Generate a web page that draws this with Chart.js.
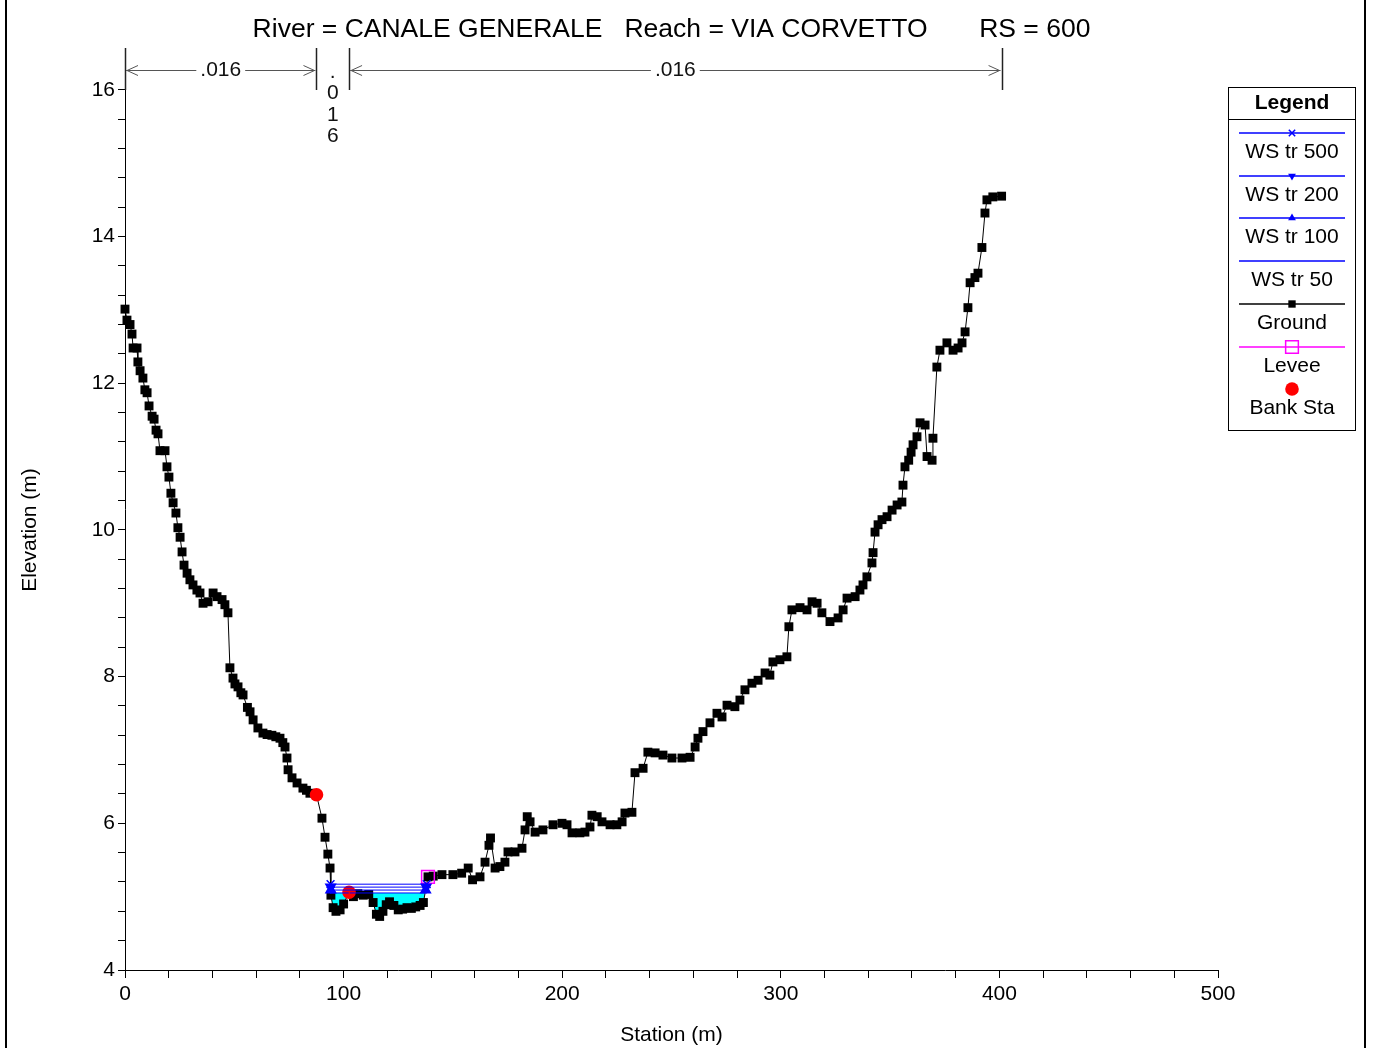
<!DOCTYPE html>
<html>
<head>
<meta charset="utf-8">
<title>River = CANALE GENERALE  Reach = VIA CORVETTO  RS = 600</title>
<script src="https://cdn.jsdelivr.net/npm/chart.js@4.4.1/dist/chart.umd.min.js"></script>
<style>
  html, body { margin: 0; padding: 0; background: #fff; }
  #wrap { width: 1374px; height: 1048px; position: relative; }
</style>
</head>
<body>
<div id="wrap"><canvas id="xs" width="1374" height="1048"></canvas></div>
<script>
// ── Datos de la sección ───────────────────────────────────────────────
const titleText = 'River = CANALE GENERALE   Reach = VIA CORVETTO       RS = 600';

const groundSta = [0,0.9,2.3,3.2,3.7,5.5,5.9,6.9,8.2,9.1,
  10.1,11.0,12.4,13.3,14.2,15.1,16.0,18.3,19.2,20.1,
  21.0,22.0,23.3,24.2,25.2,26.1,27.0,28.4,29.7,31.1,
  32.9,34.3,35.7,38.0,40.3,42.1,44.4,45.7,47.1,48.0,
  49.4,50.3,51.7,53.0,54.0,56.0,57.2,58.6,60.8,63.1,
  65.0,67.2,69.0,70.9,72.2,73.2,74.1,74.6,76.4,78.7,
  81.4,83.0,84.6,87.6,90.1,91.5,92.8,93.8,94.2,95.2,
  96.5,98.4,100.0,102.5,104.5,106.5,109.0,111.5,113.5,115.0,
  116.5,118.0,119.5,121.0,123.0,125.0,127.0,129.0,131.0,133.0,
  135.0,136.5,138.6,141.0,145.0,150.0,154.0,157.0,159.0,162.4,
  164.7,166.5,167.2,169.3,171.5,173.8,175.2,178.4,181.6,183.0,
  184.0,185.3,187.6,191.2,195.8,199.9,202.2,204.5,208.1,210.4,
  212.7,213.6,216.0,218.2,221.9,225.0,227.4,228.7,231.9,233.3,
  237.0,239.2,242.5,246.1,250.2,254.8,258.5,260.8,262.1,264.4,
  267.6,270.8,273.1,275.4,279.0,281.3,283.6,286.8,289.6,292.8,
  295.0,296.4,299.6,302.8,303.7,305.1,308.8,312.0,314.3,316.6,
  318.8,322.5,326.2,328.5,330.3,334.0,336.2,337.6,339.4,341.7,
  342.2,343.1,344.5,346.3,348.6,350.9,353.2,355.4,355.9,356.8,
  358.5,359.6,360.5,362.3,363.7,366.0,366.9,369.2,369.6,371.4,
  372.8,376.0,378.8,381.1,382.9,384.3,385.6,386.6,388.8,390.2,
  392.0,393.4,394.3,397.0,401.0];

const groundElev = [13.01,12.86,12.80,12.67,12.48,12.48,12.29,12.17,12.07,11.91,
  11.87,11.69,11.55,11.51,11.36,11.31,11.08,11.08,10.86,10.72,
  10.50,10.37,10.23,10.03,9.90,9.70,9.52,9.41,9.32,9.25,
  9.18,9.14,9.00,9.02,9.14,9.09,9.05,8.98,8.87,8.12,
  7.98,7.90,7.86,7.78,7.75,7.58,7.52,7.41,7.30,7.23,
  7.21,7.20,7.18,7.16,7.10,7.04,6.89,6.73,6.62,6.55,
  6.48,6.45,6.41,6.39,6.07,5.81,5.58,5.39,5.02,4.85,
  4.80,4.82,4.90,5.06,5.00,5.04,5.02,5.03,4.92,4.76,
  4.73,4.80,4.89,4.93,4.88,4.82,4.83,4.85,4.84,4.86,
  4.88,4.92,5.27,5.28,5.30,5.30,5.32,5.39,5.23,5.27,
  5.47,5.70,5.80,5.39,5.41,5.47,5.61,5.61,5.66,5.91,
  6.09,6.02,5.88,5.91,5.98,6.00,5.98,5.87,5.87,5.88,
  5.95,6.11,6.09,6.02,5.98,5.98,6.02,6.14,6.15,6.69,
  6.75,6.97,6.96,6.93,6.89,6.89,6.90,7.04,7.16,7.25,
  7.37,7.50,7.45,7.61,7.59,7.68,7.82,7.91,7.95,8.05,
  8.02,8.20,8.23,8.27,8.68,8.91,8.94,8.91,9.02,9.00,
  8.87,8.75,8.80,8.91,9.07,9.09,9.18,9.25,9.36,9.55,
  9.69,9.97,10.07,10.14,10.18,10.27,10.34,10.38,10.61,10.86,
  10.95,11.06,11.16,11.27,11.46,11.43,11.00,10.95,11.25,12.22,
  12.45,12.55,12.45,12.48,12.55,12.70,13.03,13.37,13.44,13.50,
  13.85,14.32,14.50,14.54,14.55];

const leveeSta  = [138.6];
const leveeElev = [5.27];
const bankSta   = [87.6, 102.5];
const bankElev  = bankSta.map(s => groundElev[groundSta.indexOf(s)]);

const wsNames = ['WS tr 500', 'WS tr 200', 'WS tr 100', 'WS tr 50'];
const wsElev  = [5.17, 5.13, 5.09, 5.05];

const nValues = ['.016', '.016', '.016'];   // izquierda, canal, derecha

const xTickLabels = [0, 100, 200, 300, 400, 500];
const yTickLabels = [4, 6, 8, 10, 12, 14, 16];

// ── Helpers ───────────────────────────────────────────────────────────
const FONT = "'Liberation Sans', Arial, sans-serif";
const BLUE = '#0000ff';

// cortes de la lámina de agua con el terreno (segmentos mojados)
function wsLine(ws) {
  const pts = [];
  for (let i = 1; i < groundSta.length; i++) {
    const x0 = groundSta[i - 1], y0 = groundElev[i - 1];
    const x1 = groundSta[i], y1 = groundElev[i];
    const wet0 = y0 < ws, wet1 = y1 < ws;
    if (wet0 !== wet1) {
      const xc = x0 + (ws - y0) * (x1 - x0) / (y1 - y0);
      pts.push({ x: xc, y: ws });
      if (!wet1) pts.push({ x: xc, y: null });
    }
  }
  return pts;
}

// banda de agua (entre lámina y terreno) para el relleno cian
function waterBand(ws) {
  const top = [], bot = [];
  for (let i = 1; i < groundSta.length; i++) {
    const x0 = groundSta[i - 1], y0 = groundElev[i - 1];
    const x1 = groundSta[i], y1 = groundElev[i];
    const wet0 = y0 < ws, wet1 = y1 < ws;
    if (wet0 !== wet1) {
      const xc = x0 + (ws - y0) * (x1 - x0) / (y1 - y0);
      top.push({ x: xc, y: ws });
      bot.push({ x: xc, y: ws });
      if (!wet1) { top.push({ x: xc, y: null }); bot.push({ x: xc, y: null }); }
    }
    if (wet1) {
      top.push({ x: x1, y: ws });
      bot.push({ x: x1, y: y1 });
    }
  }
  return { top, bot };
}

const yTicks = [];
for (let i = 0; i <= 30; i++) yTicks.push(Math.round((4 + i * 0.4) * 10) / 10);

const wsStyles = [
  { pointStyle: 'crossRot', rotation: 0,   radius: 5.5 },
  { pointStyle: 'triangle', rotation: 180, radius: 5.5 },
  { pointStyle: 'triangle', rotation: 0,   radius: 5.5 },
  { pointStyle: 'circle',   rotation: 0,   radius: 0 }
];

const band = waterBand(wsElev[wsElev.length - 1]);

const datasets = wsNames.map((name, i) => ({
  label: name,
  data: wsLine(wsElev[i]),
  borderColor: BLUE,
  backgroundColor: BLUE,
  borderWidth: 1,
  pointStyle: wsStyles[i].pointStyle,
  pointRotation: wsStyles[i].rotation,
  pointRadius: wsStyles[i].radius,
  pointBorderWidth: 1.5,
  legend: { line: BLUE, style: wsStyles[i].pointStyle, rotation: wsStyles[i].rotation, radius: wsStyles[i].radius ? 4.5 : 0, fill: BLUE },
  order: i
}));

datasets.push({
  label: 'Ground',
  data: groundSta.map((s, i) => ({ x: s, y: groundElev[i] })),
  borderColor: '#000',
  backgroundColor: '#000',
  borderWidth: 1,
  pointStyle: 'rect',
  pointRadius: 6.3,
  pointBorderWidth: 0,
  legend: { line: '#000', style: 'rect', rotation: 0, radius: 5.2, fill: '#000' },
  order: 6
});
datasets.push({
  label: 'Levee',
  data: leveeSta.map((s, i) => ({ x: s, y: leveeElev[i] })),
  showLine: false,
  borderColor: '#ff00ff',
  backgroundColor: 'rgba(0,0,0,0)',
  pointStyle: 'rect',
  pointRadius: 9,
  pointBorderWidth: 1.5,
  legend: { line: '#ff00ff', style: 'rect', rotation: 0, radius: 9, fill: 'rgba(0,0,0,0)' },
  order: 4
});
datasets.push({
  label: 'Bank Sta',
  data: bankSta.map((s, i) => ({ x: s, y: bankElev[i] })),
  showLine: false,
  borderColor: '#ff0000',
  backgroundColor: '#ff0000',
  pointStyle: 'circle',
  pointRadius: 6.8,
  pointBorderWidth: 0,
  legend: { line: null, style: 'circle', rotation: 0, radius: 6.8, fill: '#ff0000' },
  order: 5
});
datasets.push({
  label: 'agua',
  data: band.top,
  borderWidth: 0,
  pointRadius: 0,
  backgroundColor: '#00ffff',
  fill: '+1',
  order: 7
});
datasets.push({
  label: 'fondo',
  data: band.bot,
  borderWidth: 0,
  pointRadius: 0,
  fill: false,
  order: 8
});

// ── Dibujo de anotaciones estilo HEC-RAS ─────────────────────────────
function arrowHead(ctx, x, y, dir) {
  ctx.beginPath();
  ctx.moveTo(x + dir * 11, y - 5);
  ctx.lineTo(x, y);
  ctx.lineTo(x + dir * 11, y + 5);
  ctx.stroke();
}

const overlay = {
  id: 'hecras',
  afterDraw(chart) {
    const { ctx, chartArea: a, scales: { x } } = chart;
    ctx.save();

    // marco lateral
    ctx.fillStyle = '#000';
    ctx.fillRect(5, 0, 2, chart.height);
    ctx.fillRect(1364, 0, 2, chart.height);

    // títulos
    ctx.fillStyle = '#000';
    ctx.textAlign = 'center';
    ctx.textBaseline = 'middle';
    ctx.font = `26.5px ${FONT}`;
    ctx.fillText(titleText, (a.left + a.right) / 2, 30);
    ctx.font = `21px ${FONT}`;
    ctx.fillText('Station (m)', (a.left + a.right) / 2, 1035);
    ctx.save();
    ctx.translate(30, 530);
    ctx.rotate(-Math.PI / 2);
    ctx.fillText('Elevation (m)', 0, 0);
    ctx.restore();

    // valores de Manning
    const bounds = [groundSta[0], bankSta[0], bankSta[1], groundSta[groundSta.length - 1]];
    const yA = 70;
    ctx.strokeStyle = '#222';
    ctx.lineWidth = 1.5;
    bounds.forEach(b => {
      const px = Math.round(x.getPixelForValue(b)) + 0.5;
      ctx.beginPath();
      ctx.moveTo(px, a.top);
      ctx.lineTo(px, 90);
      ctx.stroke();
    });
    ctx.font = `21px ${FONT}`;
    ctx.strokeStyle = '#555';
    ctx.lineWidth = 1;
    for (let i = 0; i < nValues.length; i++) {
      const x0 = x.getPixelForValue(bounds[i]);
      const x1 = x.getPixelForValue(bounds[i + 1]);
      const w = ctx.measureText(nValues[i]).width;
      const cx = (x0 + x1) / 2;
      if (x1 - x0 > w + 40) {
        ctx.beginPath();
        ctx.moveTo(x0 + 1, yA + 0.5);
        ctx.lineTo(cx - w / 2 - 4, yA + 0.5);
        ctx.moveTo(cx + w / 2 + 4, yA + 0.5);
        ctx.lineTo(x1 - 1, yA + 0.5);
        ctx.stroke();
        arrowHead(ctx, x0 + 2, yA + 0.5, 1);
        arrowHead(ctx, x1 - 2, yA + 0.5, -1);
        ctx.fillStyle = '#111';
        ctx.fillText(nValues[i], cx, yA);
      } else {
        ctx.fillStyle = '#111';
        nValues[i].split('').forEach((ch, k) => ctx.fillText(ch, cx, yA + 2 + k * 21.5));
      }
    }

    // leyenda
    const L = { x: 1228.5, y: 87.5, w: 127, h: 343 };
    ctx.fillStyle = '#fff';
    ctx.fillRect(L.x, L.y, L.w, L.h);
    ctx.strokeStyle = '#000';
    ctx.lineWidth = 1;
    ctx.strokeRect(L.x, L.y, L.w, L.h);
    ctx.beginPath();
    ctx.moveTo(L.x, 119.5);
    ctx.lineTo(L.x + L.w, 119.5);
    ctx.stroke();
    ctx.fillStyle = '#000';
    ctx.font = `bold 21px ${FONT}`;
    ctx.fillText('Legend', 1292, 103);
    ctx.font = `21px ${FONT}`;
    const items = chart.data.datasets.filter(d => d.legend);
    items.forEach((d, i) => {
      const ly = Math.round(133 + i * 42.7);
      const lg = d.legend;
      if (lg.line) {
        ctx.strokeStyle = lg.line;
        ctx.lineWidth = 1.5;
        ctx.beginPath();
        ctx.moveTo(1239, ly);
        ctx.lineTo(1345, ly);
        ctx.stroke();
      }
      if (lg.radius) {
        ctx.fillStyle = lg.fill;
        ctx.strokeStyle = d.borderColor;
        Chart.helpers.drawPoint(ctx, {
          pointStyle: lg.style, rotation: lg.rotation, radius: lg.radius,
          borderWidth: lg.style === 'crossRot' ? 1.3 : (lg.fill === 'rgba(0,0,0,0)' ? 1.3 : 0)
        }, 1292, ly);
      }
      ctx.fillStyle = '#000';
      ctx.fillText(d.label, 1292, ly + 19.5);
    });

    ctx.restore();
  }
};

// ── Gráfico ───────────────────────────────────────────────────────────
new Chart(document.getElementById('xs'), {
  type: 'line',
  data: { datasets },
  options: {
    responsive: false,
    animation: false,
    devicePixelRatio: 1,
    layout: { padding: { left: 0, top: 48, right: 156, bottom: 0 } },
    elements: { line: { tension: 0 } },
    datasets: { line: { clip: false, spanGaps: false } },
    plugins: {
      legend: { display: false },
      title: { display: false },
      tooltip: { enabled: false }
    },
    scales: {
      x: {
        type: 'linear',
        min: 0,
        max: 500,
        afterFit: s => { s.height = 78; },
        afterBuildTicks: s => {
          const t = [];
          for (let v = 0; v <= 500; v += 20) t.push({ value: v });
          s.ticks = t;
        },
        border: { display: true, color: '#000', width: 1 },
        grid: { drawOnChartArea: false, drawTicks: true, tickLength: 8, tickColor: '#000', tickWidth: 1 },
        ticks: {
          autoSkip: false,
          maxRotation: 0,
          padding: 4,
          color: '#000',
          font: { family: FONT, size: 21 },
          callback: v => xTickLabels.includes(v) ? String(v) : ''
        }
      },
      y: {
        type: 'linear',
        min: 4,
        max: 16.57,
        afterFit: s => { s.width = 125; },
        afterBuildTicks: s => { s.ticks = yTicks.map(v => ({ value: v })); },
        border: { display: true, color: '#000', width: 1 },
        grid: { drawOnChartArea: false, drawTicks: true, tickLength: 7, tickColor: '#000', tickWidth: 1 },
        ticks: {
          autoSkip: false,
          padding: 3,
          color: '#000',
          font: { family: FONT, size: 21 },
          callback: v => yTickLabels.includes(v) ? String(v) : ''
        }
      }
    }
  },
  plugins: [overlay]
});
</script>
</body>
</html>
